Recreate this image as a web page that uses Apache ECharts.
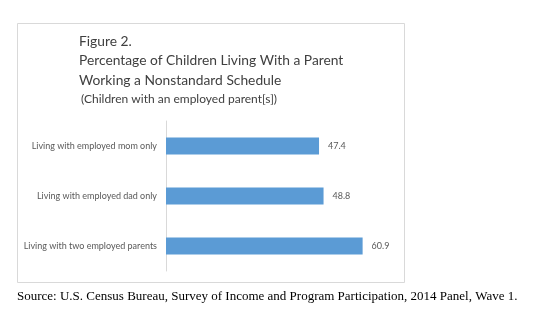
<!DOCTYPE html>
<html><head><meta charset="utf-8">
<script src="https://cdn.jsdelivr.net/npm/echarts@6/dist/echarts.min.js"></script>
<style>html,body{margin:0;padding:0;background:#fff}#c{width:560px;height:327px}</style>
</head><body><div id="c"></div>
<script>
const categories = ["Living with two employed parents", "Living with employed dad only", "Living with employed mom only"];
const values = [60.9, 48.8, 47.4];
const titleLines = ["Figure 2.", "Percentage of Children Living With a Parent", "Working a Nonstandard Schedule"];
const subtitle = "(Children with an employed parent[s])";
const source = "Source: U.S. Census Bureau, Survey of Income and Program Participation, 2014 Panel, Wave 1.";

const chart = echarts.init(document.getElementById('c'), null, {renderer: 'canvas'});
chart.setOption({
  animation: false,
  backgroundColor: '#fff',
  graphic: [
    {type: 'rect', shape: {x: 17.5, y: 23.5, width: 387, height: 259}, style: {fill: '#fff', stroke: '#d9d9d9', lineWidth: 1}, z: -10},
    {type: 'text', left: 17, top: 290, style: {text: source, font: '13px "Liberation Serif"', fill: '#000'}}
  ],
  title: [
    {text: titleLines.join('\n'), left: 79, top: 32, padding: 0, textStyle: {fontFamily: 'Lato', fontSize: 13.8, fontWeight: 'normal', color: '#404040', lineHeight: 19.3}},
    {text: subtitle, left: 81, top: 92, padding: 0, textStyle: {fontFamily: 'Lato', fontSize: 12, fontWeight: 'normal', color: '#404040', lineHeight: 14}}
  ],
  grid: {left: 166, top: 121, width: 226, height: 150},
  xAxis: {type: 'value', min: 0, max: 70, show: false},
  yAxis: {
    type: 'category', data: categories,
    axisLine: {show: true, lineStyle: {color: '#d9d9d9'}},
    axisTick: {show: false},
    axisLabel: {fontFamily: 'Lato', fontSize: 9, color: '#595959', margin: 9}
  },
  series: [{
    type: 'bar', data: values, barWidth: 17,
    itemStyle: {color: '#5B9BD5'},
    label: {show: true, position: 'right', distance: 9, fontFamily: 'Lato', fontSize: 9, color: '#595959', formatter: p => p.value.toFixed(1)}
  }]
});
</script></body></html>
